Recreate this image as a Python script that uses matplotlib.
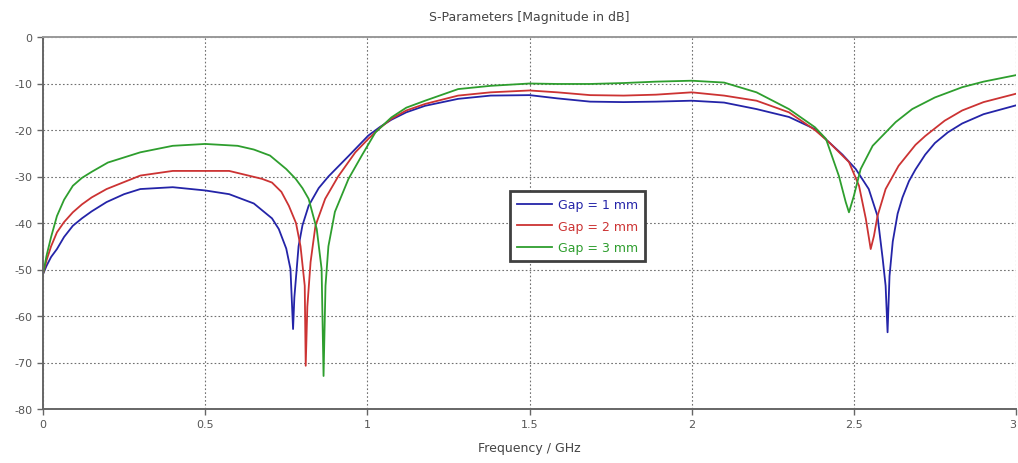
import numpy as np
import matplotlib.pyplot as plt

plt.rcParams['axes.unicode_minus'] = False

# S-parameter magnitude (dB) for three gap widths
f_gap1 = [0, 0.011, 0.025, 0.043, 0.065, 0.092, 0.12, 0.15, 0.196, 0.25, 0.3, 0.4, 0.5, 0.574,
          0.65, 0.706, 0.727, 0.75, 0.763, 0.771, 0.775, 0.788, 0.80, 0.819, 0.85, 0.88, 0.942,
          1.003, 1.04, 1.074, 1.12, 1.178, 1.28, 1.38, 1.5, 1.586, 1.687, 1.79, 1.89, 2.0, 2.1,
          2.2, 2.3, 2.38, 2.423, 2.465, 2.506, 2.546, 2.573, 2.589, 2.598, 2.604, 2.61, 2.62,
          2.635, 2.65, 2.67, 2.69, 2.72, 2.75, 2.79, 2.834, 2.9, 3.0]
s_gap1 = [-51, -49.2, -47.3, -45.6, -43, -40.6, -39, -37.5, -35.5, -33.8, -32.7, -32.3, -33, -33.8,
          -35.8, -39, -41.3, -45.5, -49.9, -62.8, -56, -45, -40.5, -36.3, -32.5, -30, -25.6,
          -21.2, -19.3, -17.8, -16.2, -14.8, -13.3, -12.6, -12.5, -13.2, -13.9, -14, -13.9, -13.7, -14.1,
          -15.5, -17.2, -19.8, -22.6, -25.3, -28.4, -32.7, -38.5, -47.7, -53.5, -63.5, -51.4, -44,
          -38, -34.5, -31, -28.5, -25.3, -22.8, -20.5, -18.6, -16.6, -14.7]

f_gap2 = [0, 0.011, 0.025, 0.043, 0.065, 0.092, 0.12, 0.15, 0.196, 0.3, 0.4, 0.5, 0.574, 0.675,
          0.706, 0.735, 0.758, 0.78, 0.794, 0.807, 0.81, 0.815, 0.825, 0.84, 0.87, 0.91, 0.963,
          1.003, 1.04, 1.074, 1.12, 1.178, 1.28, 1.38, 1.5, 1.586, 1.687, 1.79, 1.89, 2.0, 2.1,
          2.2, 2.3, 2.38, 2.423, 2.485, 2.516, 2.537, 2.552, 2.562, 2.573, 2.598, 2.638, 2.69,
          2.72, 2.78, 2.834, 2.9, 3.0]
s_gap2 = [-51, -48, -45, -42, -39.8, -37.7, -36, -34.5, -32.7, -29.8, -28.8, -28.8, -28.8, -30.5,
          -31.3, -33.3, -36.3, -40, -45, -53.5, -70.7, -58, -48.4, -40.6, -34.8, -30, -24.8,
          -21.9, -19.5, -17.6, -15.8, -14.4, -12.6, -11.9, -11.5, -11.9, -12.5, -12.6, -12.4, -11.9, -12.6,
          -13.7, -16.2, -20, -22.6, -26.9, -32, -39.1, -45.6, -42.8, -38.5, -32.7, -27.7, -23.2,
          -21.3, -18, -15.8, -14, -12.2]

f_gap3 = [0, 0.011, 0.025, 0.043, 0.065, 0.092, 0.12, 0.15, 0.2, 0.3, 0.4, 0.5, 0.6, 0.65, 0.7,
          0.75, 0.779, 0.8, 0.819, 0.844, 0.859, 0.865, 0.871, 0.88, 0.9, 0.942, 0.982, 1.025,
          1.074, 1.12, 1.178, 1.28, 1.38, 1.5, 1.586, 1.687, 1.79, 1.89, 2.0, 2.1, 2.2, 2.3, 2.38,
          2.414, 2.454, 2.475, 2.485, 2.5, 2.521, 2.558, 2.629, 2.68, 2.75, 2.834, 2.9, 3.0]
s_gap3 = [-51, -47, -43, -38.5, -35, -32, -30.3, -29, -27, -24.8, -23.4, -23, -23.4, -24.2, -25.5,
          -28.4, -30.5, -32.5, -34.8, -41.3, -49.9, -72.9, -53.5, -45, -37.6, -30.5, -25.6, -20.5,
          -17.3, -15.2, -13.7, -11.2, -10.5, -10, -10.1, -10.1, -9.9, -9.6, -9.4, -9.8, -11.9, -15.5, -19.4,
          -21.9, -29.9, -35.5, -37.7, -34.2, -28.4, -23.4, -18.3, -15.5, -13, -10.8, -9.6, -8.2]

labels = ['Gap = 1 mm', 'Gap = 2 mm', 'Gap = 3 mm']
colors = ['#2424a8', '#cc3333', '#2e9e2e']

fig = plt.figure(figsize=(10.18, 4.64), dpi=100)
ax = fig.add_axes([43/1018, 1 - 410/464, 973/1018, 372/464])

for f, s, lab, c in zip([f_gap1, f_gap2, f_gap3], [s_gap1, s_gap2, s_gap3], labels, colors):
    ax.plot(f, s, color=c, lw=1.3, label=lab)

ax.set_xlim(0, 3)
ax.set_ylim(-80, 0)
ax.set_xticks([0, 0.5, 1, 1.5, 2, 2.5, 3])
ax.set_xticklabels(['0', '0.5', '1', '1.5', '2', '2.5', '3'])
ax.get_xticklabels()[-1].set_horizontalalignment('right')
ax.set_yticks(np.arange(-80, 1, 10))
ax.grid(True, color='#707070', lw=0.8, linestyle=(0, (1.5, 2)))
ax.tick_params(colors='#666666', labelsize=8, length=4, width=1, labelcolor='#555555')

for side in ['left', 'bottom', 'top']:
    ax.spines[side].set_color('#666666')
    ax.spines[side].set_linewidth(1.4)
ax.spines['top'].set_color('#999999')
ax.spines['right'].set_visible(False)

ax.set_title('S-Parameters [Magnitude in dB]', fontsize=9, color='#444444', pad=12)
ax.set_xlabel('Frequency / GHz', fontsize=9, color='#444444', labelpad=8)

leg = ax.legend(loc='upper left', bbox_to_anchor=(0.48, 0.586), borderaxespad=0,
                fontsize=9, fancybox=False, edgecolor='#404040', framealpha=1,
                handlelength=2.8, labelspacing=0.7, borderpad=0.55, handletextpad=0.5)
leg.get_frame().set_linewidth(2)
for txt, c in zip(leg.get_texts(), colors):
    txt.set_color(c)

fig.savefig('out.png', dpi=100)
